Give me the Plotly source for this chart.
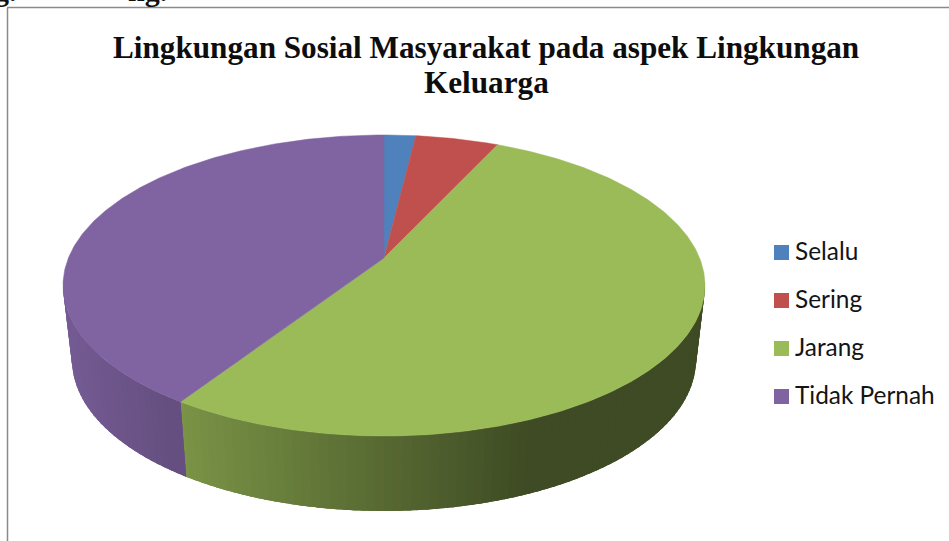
import math
import plotly.graph_objects as go

categories = ["Selalu", "Sering", "Jarang", "Tidak Pernah"]
values = [1.9, 5.0, 52.3, 40.8]
colors = ["#4F81BD", "#C0504D", "#9BBB59", "#8064A2"]
title_lines = ["Lingkungan Sosial Masyarakat pada aspek Lingkungan", "Keluarga"]
clipped_words = ["g.", "ng."]

# projection of the tilted disc onto the page
APEX_X, APEX_Y = 384, 258
K, RX_P, RY_P = 0.1827, 315.6, 145.5
TOP_CY, TOP_RX, TOP_RY = 285.5, 321, 150.5
BOT_CY, BOT_RX, BOT_RY = 360, 312, 151
LEGEND_X, LEGEND_Y0, LEGEND_STEP = 781.5, 252.5, 48


def rim(theta):
    """Clockwise angle from the top of the disc to a page point on the top rim."""
    u, v = math.sin(theta), math.cos(theta)
    d = 1 + K * v
    return APEX_X + RX_P * u / d, APEX_Y - RY_P * v / d


def rgb(hex_color, f):
    r, g, b = (int(hex_color[i:i + 2], 16) for i in (1, 3, 5))
    return f"rgb({r * f:.0f},{g * f:.0f},{b * f:.0f})"


def shade(x):
    return max(0.40, min(0.92, 0.92 - 0.00111 * (x - 65)))


total = sum(values)
edges = [0.0]
for v in values:
    edges.append(edges[-1] + v / total * 2 * math.pi)

fig = go.Figure()

# side wall, overlapping strips along the front of the ellipse
jarang_purple = rim(edges[3])
split_phi = math.atan2((jarang_purple[1] - TOP_CY) / TOP_RY, (jarang_purple[0] - APEX_X) / TOP_RX)
N = 110
start, span = math.radians(-2), math.radians(184)


def strip(a, b, base):
    pa = (APEX_X + TOP_RX * math.cos(a), TOP_CY + TOP_RY * math.sin(a))
    pb = (APEX_X + TOP_RX * math.cos(b), TOP_CY + TOP_RY * math.sin(b))
    qb = (APEX_X + BOT_RX * math.cos(b), BOT_CY + BOT_RY * math.sin(b))
    qa = (APEX_X + BOT_RX * math.cos(a), BOT_CY + BOT_RY * math.sin(a))
    xs = [pa[0], pb[0], qb[0], qa[0], pa[0]]
    ys = [pa[1], pb[1], qb[1], qa[1], pa[1]]
    col = rgb(base, shade((pa[0] + qa[0]) / 2))
    fig.add_trace(go.Scatter(x=xs, y=ys, mode="none", fill="toself", fillcolor=col,
                             hoverinfo="skip", showlegend=False))


# right part first (green), walking leftwards so that each strip covers the last seam
for i in range(N):
    a = start + span * i / N
    b = start + span * (i + 2.5) / N
    if a < split_phi:
        strip(a, min(b, split_phi), colors[2])
for i in range(N, 0, -1):
    b = start + span * i / N
    a = start + span * (i - 2.5) / N
    if b > split_phi:
        strip(max(a, split_phi), b, colors[3])

# top face
for i, cat in enumerate(categories):
    steps = max(4, int((edges[i + 1] - edges[i]) / 0.01))
    pts = [rim(edges[i] + (edges[i + 1] - edges[i]) * s / steps) for s in range(steps + 1)]
    xs = [APEX_X] + [p[0] for p in pts] + [APEX_X]
    ys = [APEX_Y] + [p[1] for p in pts] + [APEX_Y]
    fig.add_trace(go.Scatter(x=xs, y=ys, mode="lines", fill="toself", fillcolor=colors[i],
                             line=dict(color=colors[i], width=0.5), name=cat, showlegend=False))

# key on the right
key_y = [LEGEND_Y0 + LEGEND_STEP * i for i in range(len(categories))]
fig.add_trace(go.Scatter(
    x=[LEGEND_X] * len(categories), y=key_y, mode="markers",
    marker=dict(symbol="square", size=15, color=colors, line=dict(width=0)),
    cliponaxis=False, showlegend=False, hoverinfo="skip",
))
fig.add_trace(go.Scatter(
    x=[LEGEND_X + 13.5] * len(categories), y=[v + 1.5 for v in key_y],
    mode="text", text=categories, textposition="middle right",
    textfont=dict(family="Lato", size=24.4, color="#141414"),
    cliponaxis=False, showlegend=False, hoverinfo="skip",
))

title_font = dict(family="Liberation Serif", size=31.2, color="#0d0d0d")
clip_font = dict(family="Liberation Serif", size=30, color="#111111")
fig.update_layout(
    width=949, height=541, autosize=False,
    margin=dict(l=0, r=0, t=0, b=0),
    paper_bgcolor="white", plot_bgcolor="white",
    xaxis=dict(range=[0, 949], visible=False, fixedrange=True),
    yaxis=dict(range=[541, 0], visible=False, fixedrange=True),
    annotations=[
        dict(x=486, y=47, xref="x", yref="y", text=f"<b>{title_lines[0]}</b>", showarrow=False, font=title_font),
        dict(x=486, y=82, xref="x", yref="y", text=f"<b>{title_lines[1]}</b>", showarrow=False, font=title_font),
        dict(x=18, y=8, xref="x", yref="y", xanchor="right", yanchor="bottom", text=f"<b>{clipped_words[0]}</b>",
             showarrow=False, font=clip_font, borderpad=0),
        dict(x=168, y=8, xref="x", yref="y", xanchor="right", yanchor="bottom", text=f"<b>{clipped_words[1]}</b>",
             showarrow=False, font=clip_font, borderpad=0),
    ],
    shapes=[
        dict(type="line", x0=7.5, x1=7.5, y0=8, y1=541, xref="x", yref="y", line=dict(color="#8a8a8a", width=1.5)),
        dict(type="line", x0=7, x1=949, y0=7.5, y1=7.5, xref="x", yref="y", line=dict(color="#8a8a8a", width=1.5)),
    ],
)

fig.write_html("out.html", config={"displayModeBar": False},
               post_script="document.body.style.margin='0';document.body.style.overflow='hidden';")
